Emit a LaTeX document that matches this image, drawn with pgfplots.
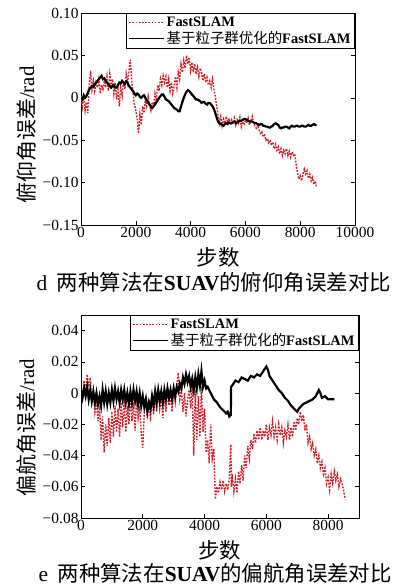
\documentclass[border=0pt]{standalone}
\usepackage{fontspec}
\setmainfont{Liberation Serif}
\newfontfamily\cjk{Noto Sans CJK SC}
\usepackage{pgfplots}
\pgfplotsset{compat=1.18}
\definecolor{fsred}{RGB}{212,28,40}

\pgfplotstableread{
x y
0 0.002
50 -0.010
100 0.004
150 -0.015
200 -0.005
250 -0.018
300 0.015
350 0.032
400 0.010
450 0.020
500 0.008
550 0.018
600 0.012
650 0.022
700 0.005
750 0.015
800 0.010
850 0.020
900 0.012
950 0.025
1000 0.008
1050 0.028
1100 0.015
1150 0.022
1200 0.005
1250 0.018
1300 -0.002
1350 0.010
1400 -0.010
1450 0.012
1500 0.002
1550 0.020
1600 0.010
1650 0.028
1700 0.018
1750 0.032
1800 0.045
1850 0.020
1900 0.005
1950 -0.008
2000 -0.015
2050 -0.025
2100 -0.042
2150 -0.020
2200 -0.032
2250 -0.010
2300 -0.018
2350 -0.002
2400 -0.010
2450 0.002
2500 -0.008
2550 -0.015
2600 -0.005
2650 -0.012
2700 0.005
2750 -0.002
2800 0.015
2850 0.008
2900 0.022
2950 0.015
3000 0.026
3050 0.018
3100 0.025
3150 0.012
3200 0.022
3250 0.008
3300 0.018
3350 0.005
3400 0.015
3450 0.025
3500 0.012
3550 0.030
3600 0.022
3650 0.040
3700 0.030
3750 0.044
3800 0.035
3850 0.050
3900 0.040
3950 0.048
4000 0.032
4050 0.042
4100 0.030
4150 0.040
4200 0.028
4250 0.036
4300 0.025
4350 0.035
4400 0.030
4450 0.020
4500 0.028
4550 0.018
4600 0.024
4650 0.015
4700 0.020
4750 0.012
4800 0.022
4850 0.010
4900 0.002
4950 -0.010
5000 -0.020
5050 -0.030
5100 -0.022
5150 -0.033
5200 -0.025
5250 -0.030
5300 -0.022
5350 -0.028
5400 -0.024
5450 -0.032
5500 -0.026
5550 -0.030
5600 -0.024
5650 -0.032
5700 -0.026
5750 -0.030
5800 -0.023
5850 -0.034
5900 -0.028
5950 -0.032
6000 -0.026
6050 -0.030
6100 -0.024
6150 -0.032
6200 -0.027
6250 -0.022
6300 -0.030
6350 -0.034
6400 -0.036
6450 -0.032
6500 -0.038
6550 -0.042
6600 -0.040
6650 -0.046
6700 -0.044
6750 -0.050
6800 -0.048
6850 -0.053
6900 -0.050
6950 -0.056
7000 -0.052
7050 -0.060
7100 -0.055
7150 -0.062
7200 -0.058
7250 -0.066
7300 -0.060
7350 -0.068
7400 -0.062
7450 -0.066
7500 -0.060
7550 -0.068
7600 -0.063
7650 -0.070
7700 -0.064
7750 -0.068
7800 -0.066
7850 -0.078
7900 -0.088
7950 -0.096
8000 -0.092
8050 -0.098
8100 -0.090
8150 -0.084
8200 -0.090
8250 -0.086
8300 -0.095
8350 -0.090
8400 -0.098
8450 -0.094
8500 -0.102
8550 -0.098
8600 -0.106
}\pitchfast

\pgfplotstableread{
x y
0 0.000
50 -0.002
100 0.003
150 0.000
200 0.002
250 0.006
300 0.010
350 0.012
400 0.014
450 0.013
500 0.016
550 0.018
600 0.020
650 0.022
700 0.024
750 0.026
800 0.022
850 0.023
900 0.020
950 0.018
1000 0.016
1050 0.014
1100 0.012
1150 0.014
1200 0.015
1250 0.012
1300 0.012
1350 0.015
1400 0.018
1450 0.017
1500 0.020
1550 0.018
1600 0.016
1650 0.019
1700 0.018
1750 0.014
1800 0.012
1850 0.010
1900 0.008
1950 0.005
2000 0.003
2050 0.005
2100 0.004
2150 0.001
2200 0.000
2250 0.002
2300 0.003
2350 0.000
2400 -0.003
2450 -0.005
2500 -0.008
2550 -0.010
2600 -0.012
2650 -0.010
2700 -0.008
2750 -0.005
2800 -0.003
2850 0.000
2900 0.002
2950 0.004
3000 0.004
3050 0.001
3100 -0.002
3150 -0.003
3200 -0.004
3250 -0.006
3300 -0.008
3350 -0.010
3400 -0.012
3450 -0.013
3500 -0.014
3550 -0.016
3600 -0.016
3650 -0.010
3700 -0.005
3750 0.000
3800 0.004
3850 0.007
3900 0.009
3950 0.008
4000 0.006
4050 0.004
4100 0.002
4150 0.000
4200 -0.002
4250 -0.002
4300 -0.003
4350 -0.004
4400 -0.006
4450 -0.005
4500 -0.005
4550 -0.007
4600 -0.008
4650 -0.006
4700 -0.006
4750 -0.008
4800 -0.010
4850 -0.013
4900 -0.018
4950 -0.023
5000 -0.028
5050 -0.030
5100 -0.031
5150 -0.032
5200 -0.033
5250 -0.031
5300 -0.030
5350 -0.031
5400 -0.029
5450 -0.030
5500 -0.030
5550 -0.029
5600 -0.028
5650 -0.030
5700 -0.029
5750 -0.028
5800 -0.027
5850 -0.027
5900 -0.026
5950 -0.025
6000 -0.025
6050 -0.026
6100 -0.027
6150 -0.028
6200 -0.028
6250 -0.028
6300 -0.029
6350 -0.030
6400 -0.030
6450 -0.031
6500 -0.032
6550 -0.031
6600 -0.031
6650 -0.033
6700 -0.033
6750 -0.034
6800 -0.034
6850 -0.035
6900 -0.035
6950 -0.034
7000 -0.033
7050 -0.031
7100 -0.030
7150 -0.031
7200 -0.032
7250 -0.035
7300 -0.036
7350 -0.035
7400 -0.035
7450 -0.034
7500 -0.034
7550 -0.035
7600 -0.036
7650 -0.034
7700 -0.033
7750 -0.034
7800 -0.034
7850 -0.033
7900 -0.033
7950 -0.034
8000 -0.034
8050 -0.033
8100 -0.033
8150 -0.034
8200 -0.034
8250 -0.033
8300 -0.032
8350 -0.033
8400 -0.033
8450 -0.032
8500 -0.031
8550 -0.032
8600 -0.032
}\pitchpso

\pgfplotstableread{
x y
0 0.002
50 -0.004
100 0.008
150 0.000
200 0.012
250 0.004
300 0.010
350 -0.006
400 0.000
450 -0.012
500 -0.004
550 -0.018
600 -0.008
650 -0.030
700 -0.015
750 -0.038
800 -0.020
850 -0.034
900 -0.016
950 -0.032
1000 -0.012
1050 -0.028
1100 -0.008
1150 -0.025
1200 -0.010
1250 -0.028
1300 -0.006
1350 -0.022
1400 -0.004
1450 -0.025
1500 -0.008
1550 -0.020
1600 -0.002
1650 -0.018
1700 -0.006
1750 -0.024
1800 -0.004
1850 -0.016
1900 -0.008
1950 -0.026
2000 -0.035
2050 -0.012
2100 -0.002
2150 -0.016
2200 -0.004
2250 -0.018
2300 0.000
2350 -0.014
2400 -0.002
2450 -0.012
2500 0.002
2550 -0.010
2600 -0.003
2650 -0.016
2700 0.000
2750 -0.012
2800 0.003
2850 -0.008
2900 -0.002
2950 -0.012
3000 0.001
3050 -0.006
3100 0.004
3150 0.013
3200 -0.004
3250 0.002
3300 -0.012
3350 0.000
3400 -0.015
3450 -0.004
3500 0.002
3550 -0.010
3600 0.005
3650 -0.040
3700 0.002
3750 -0.030
3800 -0.002
3850 -0.028
3900 0.004
3950 -0.025
4000 -0.010
4050 -0.038
4100 -0.030
4150 -0.045
4200 -0.020
4250 -0.042
4300 -0.036
4350 -0.068
4400 -0.060
4450 -0.064
4500 -0.057
4550 -0.062
4600 -0.056
4650 -0.063
4700 -0.058
4750 -0.062
4800 -0.055
4850 -0.033
4870 -0.060
4900 -0.052
4950 -0.063
5000 -0.055
5050 -0.064
5100 -0.050
5150 -0.058
5200 -0.046
5250 -0.056
5300 -0.040
5350 -0.048
5400 -0.034
5450 -0.042
5500 -0.030
5550 -0.036
5600 -0.026
5650 -0.032
5700 -0.024
5750 -0.030
5800 -0.022
5850 -0.030
5900 -0.024
5950 -0.028
6000 -0.020
6050 -0.030
6100 -0.022
6150 -0.027
6200 -0.018
6250 -0.028
6300 -0.022
6350 -0.030
6400 -0.020
6450 -0.027
6500 -0.022
6550 -0.032
6600 -0.024
6650 -0.028
6700 -0.020
6750 -0.030
6800 -0.022
6850 -0.028
6900 -0.018
6950 -0.024
7000 -0.016
7050 -0.020
7100 -0.012
7150 -0.018
7200 -0.014
7250 -0.024
7300 -0.020
7350 -0.032
7400 -0.028
7450 -0.036
7500 -0.032
7550 -0.040
7600 -0.036
7650 -0.045
7700 -0.040
7750 -0.048
7800 -0.044
7850 -0.052
7900 -0.048
7950 -0.058
8000 -0.054
8050 -0.062
8100 -0.052
8150 -0.058
8200 -0.050
8250 -0.056
8300 -0.052
8350 -0.060
8400 -0.055
8450 -0.058
8500 -0.062
8550 -0.068
}\yawfast

\pgfplotstableread{
x y
0 0.002
50 -0.003
100 0.003
150 -0.002
200 0.004
250 -0.004
300 0.002
350 -0.005
400 0.001
450 -0.006
500 0.000
550 -0.007
600 -0.002
650 -0.008
700 0.002
750 -0.006
800 0.001
850 -0.007
900 0.000
950 -0.006
1000 0.002
1050 -0.005
1100 0.003
1150 -0.004
1200 0.001
1250 -0.006
1300 0.002
1350 -0.004
1400 0.002
1450 -0.006
1500 0.000
1550 -0.007
1600 0.001
1650 -0.006
1700 0.002
1750 -0.005
1800 0.001
1850 -0.007
1900 0.000
1950 -0.008
2000 -0.002
2050 -0.009
2100 -0.004
2150 -0.012
2200 -0.006
2250 -0.010
2300 -0.002
2350 -0.008
2400 0.001
2450 -0.006
2500 0.002
2550 -0.005
2600 0.001
2650 -0.006
2700 0.002
2750 -0.004
2800 0.003
2850 -0.003
2900 0.002
2950 -0.004
3000 0.003
3050 -0.002
3100 0.004
3150 0.001
3200 0.006
3250 0.003
3300 0.010
3350 0.006
3400 0.012
3450 0.007
3500 0.011
3550 0.004
3600 0.009
3650 0.002
3700 0.010
3750 0.003
3800 0.012
3850 0.005
3900 0.014
3950 0.004
4000 0.008
4050 0.003
4100 0.004
4200 0.000
4300 -0.004
4400 -0.006
4500 -0.009
4600 -0.011
4700 -0.013
4750 -0.012
4800 -0.015
4850 -0.014
4860 0.004
4900 0.005
5000 0.008
5100 0.007
5200 0.010
5300 0.009
5400 0.008
5500 0.011
5600 0.010
5700 0.012
5800 0.011
5900 0.014
6000 0.017
6050 0.015
6100 0.011
6200 0.008
6300 0.005
6400 0.002
6500 0.000
6600 -0.003
6700 -0.005
6800 -0.008
6900 -0.010
7000 -0.012
7050 -0.010
7100 -0.009
7200 -0.007
7300 -0.006
7400 -0.005
7500 -0.004
7600 -0.002
7700 0.002
7750 0.000
7800 -0.003
7900 -0.002
8000 -0.004
8100 -0.004
8200 -0.004
}\yawpso

\pgfplotsset{
  myaxis/.style={
    scale only axis,
    scaled ticks=false,
    axis line style={black, line width=0.9pt},
    tick align=inside,
    xtick pos=both, ytick pos=both,
    major tick length=4bp,
    tick style={black, line width=0.6pt},
    every tick label/.append style={font=\fontsize{15.5}{17}\selectfont},
    /pgf/number format/assume math mode=true,
    xticklabel style={yshift=1bp},
    yticklabel style={xshift=1bp},
    xlabel={{\cjk 步数}},
    xlabel style={font=\fontsize{21.5}{24}\selectfont, yshift=-3bp},
    ylabel style={font=\fontsize{21}{24}\selectfont},
    legend cell align=left,
    legend style={at={(rel axis cs:1,1)}, anchor=north east,
      draw=black, line width=1.1pt, fill=white,
      font=\fontsize{14.5}{16}\selectfont\bfseries,
      inner xsep=2bp, inner ysep=1bp, row sep=0bp},
    legend image code/.code={\draw[#1, line width=1pt] (0bp,0bp) -- (35bp,0bp);},
  },
  fastline/.style={color=fsred, line width=1.4pt, dash pattern=on 1.8pt off 1.4pt},
  psoline/.style={color=black, line width=2.2pt},
}

\begin{document}
\begin{tikzpicture}
\path[use as bounding box] (0bp,0bp) rectangle (396bp,-585bp);

\begin{axis}[myaxis,
  at={(81bp,-225bp)}, anchor=south west,
  width=274bp, height=212bp,
  xmin=0, xmax=10000, ymin=-0.15, ymax=0.10,
  xtick={0,2000,4000,6000,8000,10000},
  xticklabels={0,2000,4000,6000,8000,10000},
  ytick={-0.15,-0.10,-0.05,0,0.05,0.10},
  yticklabels={−0.15,−0.10,−0.05,0,0.05,0.10},
  ylabel={{\cjk 俯仰角误差}/rad},
  ylabel style={at={(ticklabel cs:0.425)}},
]
\addplot[fastline] table[x=x,y=y] {\pitchfast};
\addlegendentry{FastSLAM}
\addplot[psoline] table[x=x,y=y] {\pitchpso};
\addlegendentry{{\cjk\mdseries 基于粒子群优化的}FastSLAM}
\end{axis}

\node[anchor=west, font=\fontsize{21.5}{24}\selectfont] at (33bp,-282bp) {d\hspace{0.45em}{\cjk 两种算法在}\textbf{SUAV}{\cjk 的俯仰角误差对比}};

\begin{axis}[myaxis,
  at={(81bp,-518bp)}, anchor=south west,
  width=278bp, height=203bp,
  xmin=0, xmax=9000, ymin=-0.08, ymax=0.05,
  xtick={0,2000,4000,6000,8000},
  xticklabels={0,2000,4000,6000,8000},
  ytick={-0.08,-0.06,-0.04,-0.02,0,0.02,0.04},
  yticklabels={−0.08,−0.06,−0.04,−0.02,0,0.02,0.04},
  ylabel={{\cjk 偏航角误差}/rad},
  ylabel style={at={(ticklabel cs:0.446)}},
]
\addplot[fastline] table[x=x,y=y] {\yawfast};
\addlegendentry{FastSLAM}
\addplot[psoline] table[x=x,y=y] {\yawpso};
\addlegendentry{{\cjk\mdseries 基于粒子群优化的}FastSLAM}
\end{axis}

\node[anchor=west, font=\fontsize{21.5}{24}\selectfont] at (35bp,-573bp) {e\hspace{0.45em}{\cjk 两种算法在}\textbf{SUAV}{\cjk 的偏航角误差对比}};
\end{tikzpicture}
\end{document}
